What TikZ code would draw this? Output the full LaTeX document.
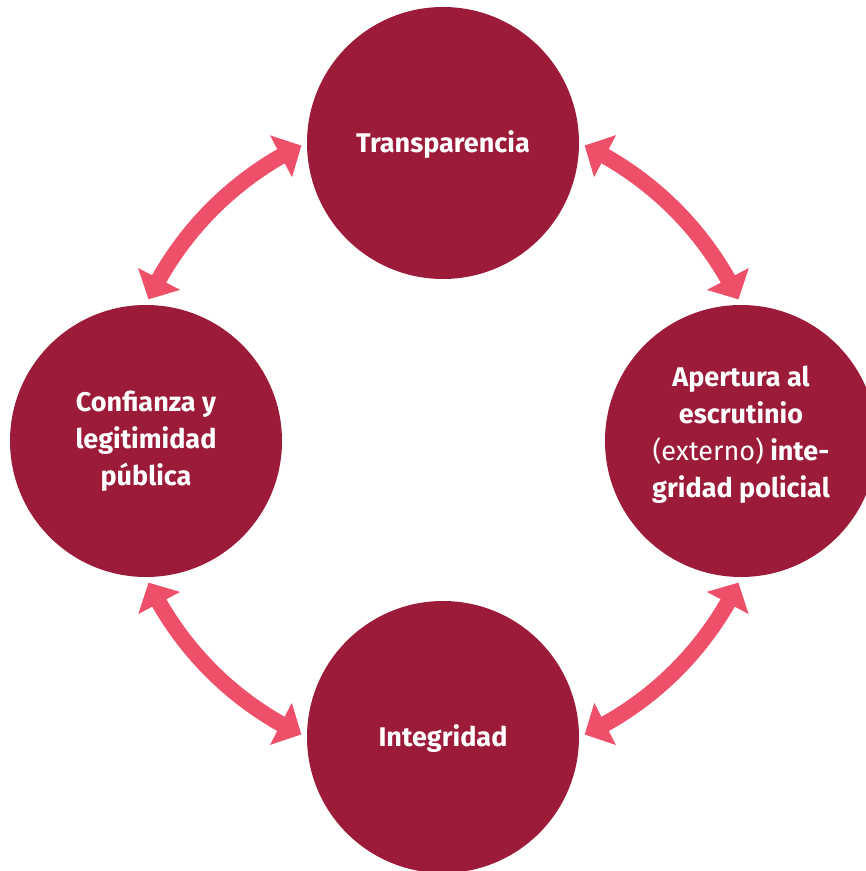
\documentclass[tikz,border=0pt]{standalone}
\usepackage{fontspec}
\setmainfont{Fira Sans}
\usetikzlibrary{arrows.meta,bending}

\definecolor{wine}{HTML}{9B1B38}
\definecolor{rosy}{HTML}{EE506A}

\tikzset{
  disc/.style={circle, fill=wine, draw=none, minimum size=272pt, inner sep=0pt},
  caption/.style={text=white, align=center, inner sep=0pt,
    font=\fontsize{27}{37}\selectfont\bfseries},
  cycarrow/.style={rosy, line width=16pt,
    {Triangle[length=23pt,width=46pt]}-{Triangle[length=23pt,width=46pt]},
    shorten <=6pt, shorten >=6pt, bend left=20.5, looseness=0.88},
}

\begin{document}
\begin{tikzpicture}[x=1pt,y=1pt]
  \useasboundingbox (0,0) rectangle (866,871);
  \clip (0,0) rectangle (866,871);

  % the four stages
  \node[disc] (top)    at (443,728) {};
  \node[disc] (left)   at (146,430) {};
  \node[disc] (right)  at (741,430) {};
  \node[disc] (bottom) at (443,134) {};

  % their captions
  \node[caption, yshift=-2pt] (ttop) at (top) {Transparencia};
  \node[caption] (tleft) at (left) {Confianza y\\legitimidad\\pública};
  \node[caption, yshift=6pt] (tright) at (right)
    {Apertura al\\escrutinio\\{\mdseries(externo)} inte-\\gridad policial};
  \node[caption, yshift=-2pt] (tbottom) at (bottom) {Integridad};

  % two-way links around the cycle
  \draw[cycarrow] (top.east)    to (right.north);
  \draw[cycarrow] (right.south) to (bottom.east);
  \draw[cycarrow] (bottom.west) to (left.south);
  \draw[cycarrow] (left.north)  to (top.west);
\end{tikzpicture}
\end{document}
